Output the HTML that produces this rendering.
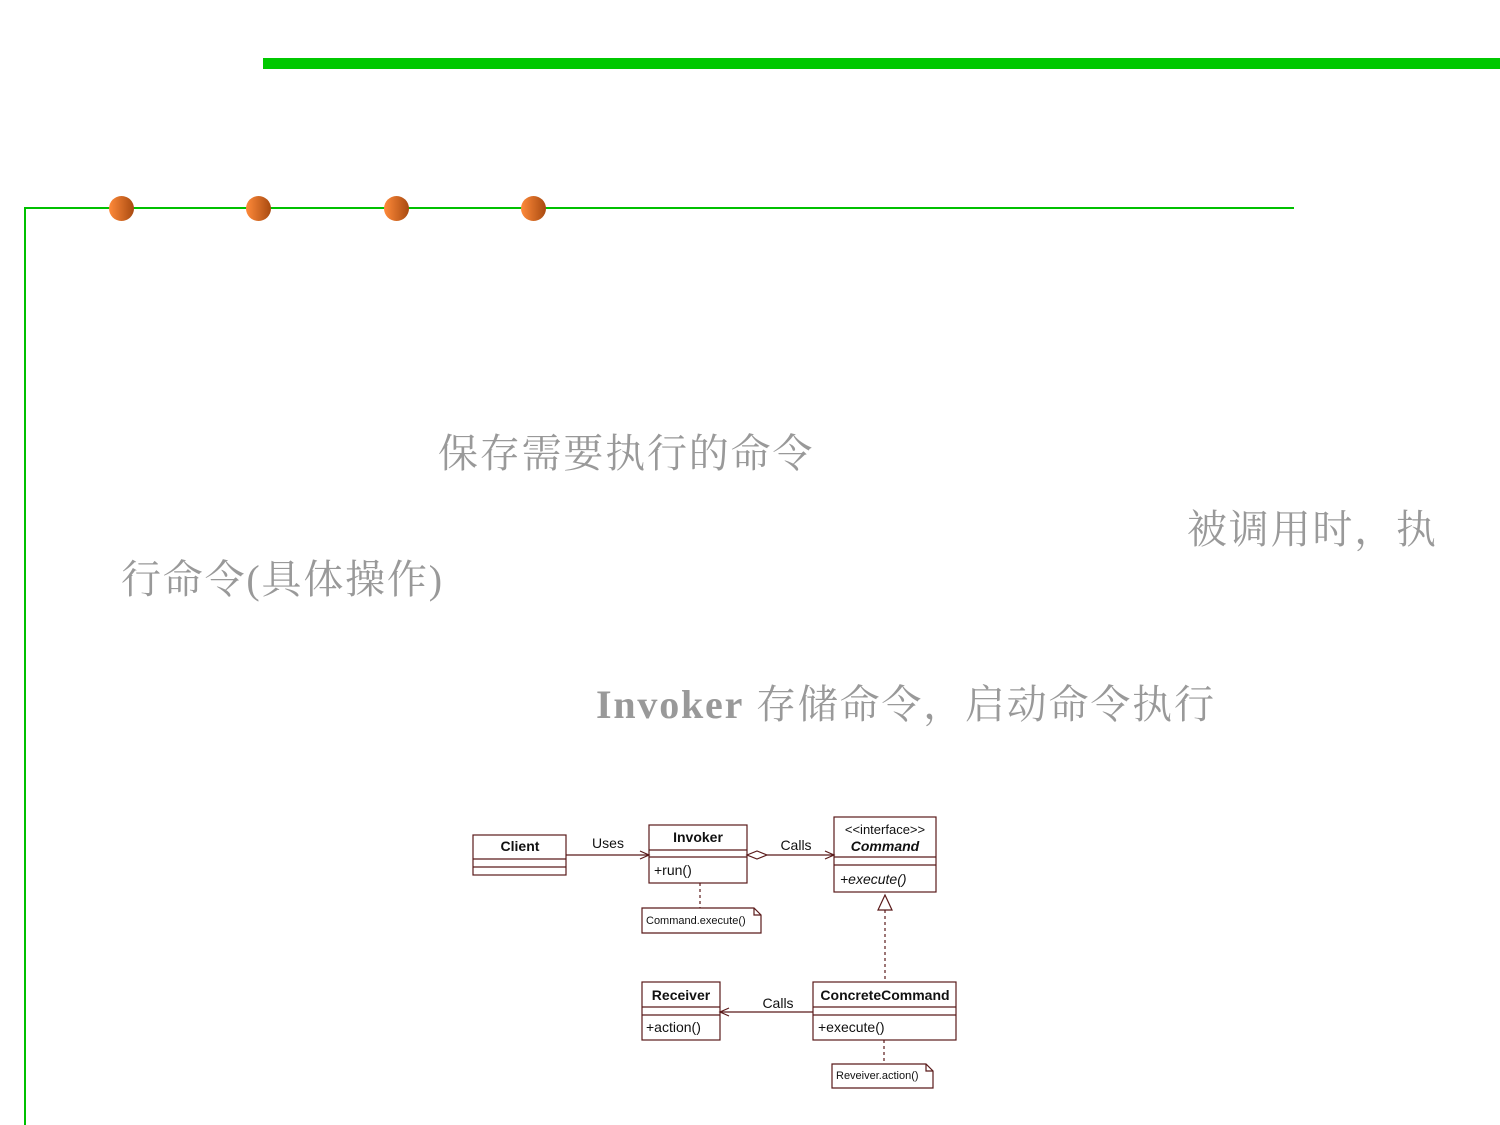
<!DOCTYPE html>
<html><head><meta charset="utf-8"><style>
html,body{margin:0;padding:0;background:#fff;}
body{width:1500px;height:1125px;position:relative;overflow:hidden;}
.t{position:absolute;font-family:"Liberation Serif","Noto Serif CJK SC",serif;font-size:40px;color:#999;line-height:1;white-space:nowrap;letter-spacing:1.8px;}
.dot{position:absolute;width:25px;height:25px;border-radius:50%;background:linear-gradient(90deg,#ff8a3a,#a84a10);top:196px;}
</style></head><body>
<div style="position:absolute;left:263px;top:58px;width:1237px;height:11px;background:#00c800"></div>
<div style="position:absolute;left:24px;top:207px;width:1270px;height:2px;background:#00c000"></div>
<div style="position:absolute;left:24px;top:207px;width:2px;height:918px;background:#00c000"></div>
<div class="dot" style="left:109px"></div>
<div class="dot" style="left:246px"></div>
<div class="dot" style="left:384px"></div>
<div class="dot" style="left:521px"></div>
<div class="t" style="left:438px;top:434px">保存需要执行的命令</div>
<div class="t" style="left:1187px;top:510px">被调用时，执</div>
<div class="t" style="left:121px;top:560px">行命令(具体操作)</div>
<div class="t" style="left:596px;top:685px"><b>Invoker</b> 存储命令，启动命令执行</div>
<svg width="1500" height="1125" style="position:absolute;left:0;top:0" font-family="Liberation Sans, sans-serif">
<g fill="none" stroke="#5a1a1a" stroke-width="1.2">
<rect x="473" y="835" width="93" height="40"/><line x1="473" y1="859" x2="566" y2="859"/><line x1="473" y1="867" x2="566" y2="867"/>
<rect x="649" y="825" width="98" height="58"/><line x1="649" y1="850" x2="747" y2="850"/><line x1="649" y1="857" x2="747" y2="857"/>
<rect x="834" y="817" width="102" height="75"/><line x1="834" y1="857" x2="936" y2="857"/><line x1="834" y1="865" x2="936" y2="865"/>
<rect x="642" y="982" width="78" height="58"/><line x1="642" y1="1007" x2="720" y2="1007"/><line x1="642" y1="1015" x2="720" y2="1015"/>
<rect x="813" y="982" width="143" height="58"/><line x1="813" y1="1007" x2="956" y2="1007"/><line x1="813" y1="1015" x2="956" y2="1015"/>
<line x1="566" y1="855" x2="649" y2="855"/><polyline points="640,851 649,855 640,859"/>
<polygon points="747,855 757,851 767,855 757,859"/><line x1="767" y1="855" x2="834" y2="855"/><polyline points="825,851 834,855 825,859"/>
<line x1="885" y1="910" x2="885" y2="982" stroke-dasharray="3,3"/><polygon points="885,895 878,910 892,910"/>
<line x1="813" y1="1012" x2="720" y2="1012"/><polyline points="729,1008 720,1012 729,1016"/>
<line x1="700" y1="883" x2="700" y2="908" stroke-dasharray="3,3"/>
<polygon points="642,908 754,908 761,915 761,933 642,933"/><polyline points="754,908 754,915 761,915"/>
<line x1="884" y1="1040" x2="884" y2="1064" stroke-dasharray="3,3"/>
<polygon points="832,1064 926,1064 933,1071 933,1088 832,1088"/><polyline points="926,1064 926,1071 933,1071"/>
</g>
<g fill="#111" font-size="14">
<text x="520" y="851" text-anchor="middle" font-weight="bold">Client</text>
<text x="698" y="842" text-anchor="middle" font-weight="bold">Invoker</text>
<text x="654" y="875">+run()</text>
<text x="885" y="834" text-anchor="middle" font-size="13">&lt;&lt;interface&gt;&gt;</text>
<text x="885" y="851" text-anchor="middle" font-weight="bold" font-style="italic">Command</text>
<text x="840" y="884" font-style="italic">+execute()</text>
<text x="681" y="1000" text-anchor="middle" font-weight="bold">Receiver</text>
<text x="646" y="1032">+action()</text>
<text x="885" y="1000" text-anchor="middle" font-weight="bold">ConcreteCommand</text>
<text x="818" y="1032">+execute()</text>
<text x="608" y="848" text-anchor="middle">Uses</text>
<text x="796" y="850" text-anchor="middle">Calls</text>
<text x="778" y="1008" text-anchor="middle">Calls</text>
<text x="646" y="924" font-size="11">Command.execute()</text>
<text x="836" y="1079" font-size="11">Reveiver.action()</text>
</g>
</svg>
</body></html>
